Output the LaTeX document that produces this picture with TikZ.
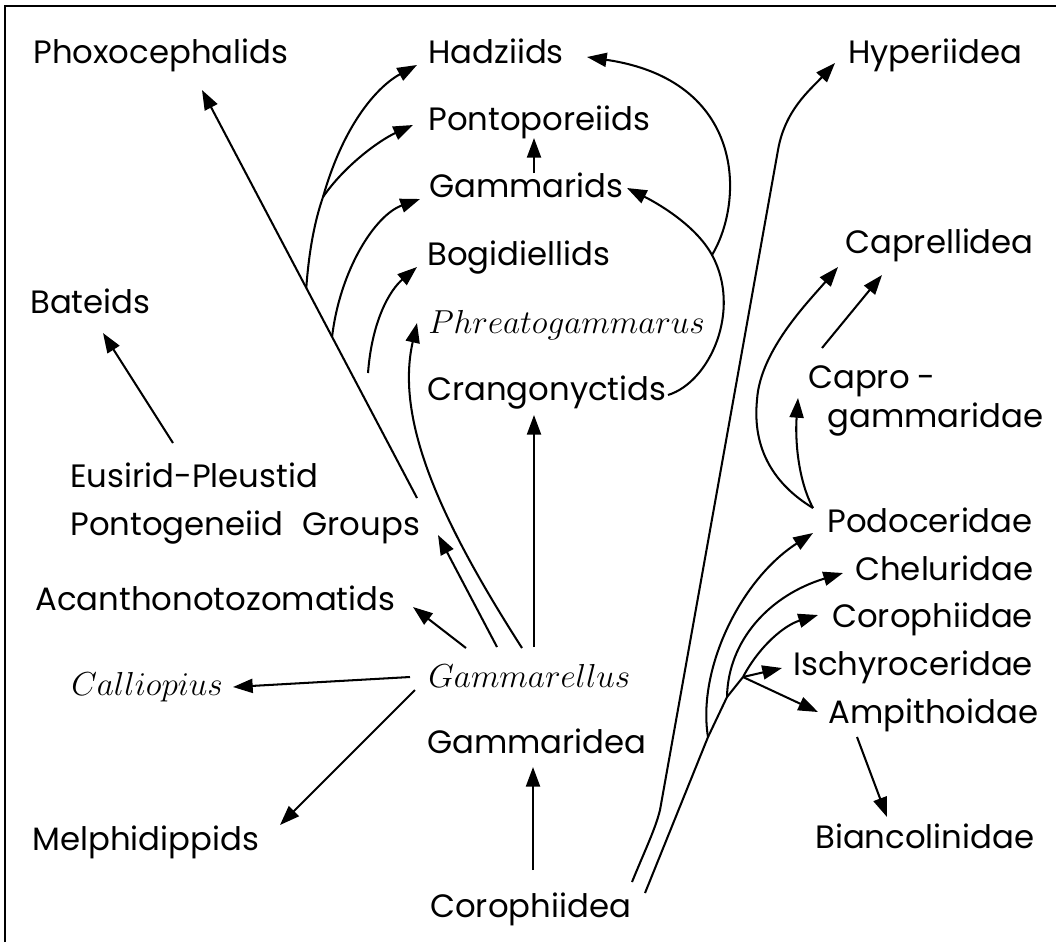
\documentclass[tikz,border=0pt]{standalone}
\usepackage{fontspec}
\setmainfont{Poppins}
\usetikzlibrary{arrows.meta, calc}
\newcommand{\gname}[1]{\scalebox{0.95}{$#1$}}

\begin{document}
\begin{tikzpicture}[x=0.025cm, y=-0.025cm,
  taxon/.style={inner sep=0pt, anchor=base west, font=\fontsize{23}{27}\selectfont},
  genus/.style={inner sep=0pt, anchor=base west, font=\fontsize{24.88}{28}\selectfont},
  link/.style={-{Triangle[length=14pt, width=10pt]}, line width=1.45pt},
  trunk/.style={line width=1.45pt}]
\useasboundingbox (0,0) rectangle (1056,942);
\draw[line width=1.4pt] (5,942) -- (5,6) -- (1056,6);

% left column
\node[taxon] (phox) at (33,63) {Phoxocephalids};
\node[taxon] (bat) at (30,313) {Bateids};
\node[taxon, align=left, font=\fontsize{23}{34}\selectfont] (eus) at (70,535) {Eusirid-Pleustid\\Pontogeneiid\hspace{0.6em}Groups};
\node[taxon] (acan) at (35,610) {Acanthonotozomatids};
\node[genus] (calli) at (71,695) {\gname{Calliopius}};
\node[taxon] (melph) at (32,850) {Melphidippids};

% middle column
\node[taxon] (hadz) at (428,63) {Hadziids};
\node[taxon] (ponto) at (428,130) {Pontoporeiids};
\node[taxon] (gamds) at (429,197) {Gammarids};
\node[taxon] (bogi) at (427,265) {Bogidiellids};
\node[genus] (phrea) at (428,333) {\gname{Phreatogammarus}};
\node[taxon] (crang) at (427,400) {Crangonyctids};
\node[genus] (gmls) at (428,687) {\gname{Gammarellus}};
\node[taxon] (gmdea) at (427,753) {Gammaridea};
\node[taxon] (coro) at (430,917) {Corophiidea};

% right column
\node[taxon] (hyper) at (848,63) {Hyperiidea};
\node[taxon] (capr) at (845,253) {Caprellidea};
\node[taxon, align=left, font=\fontsize{23}{27.7}\selectfont] (caprog) at (808,427) {Capro\hspace{0.25em}-\\\hspace*{13.5pt}gammaridae};
\node[taxon] (podo) at (827,532) {Podoceridae};
\node[taxon] (chel) at (855,580) {Cheluridae};
\node[taxon] (corid) at (832,627) {Corophiidae};
\node[taxon] (isch) at (793,675) {Ischyroceridae};
\node[taxon] (ampi) at (828,723) {Ampithoidae};
\node[taxon] (bianc) at (815,848) {Biancolinidae};

% Eusirid line and its branches
\coordinate (eusTail) at ($(eus.base west)+(347,-37)$);
\coordinate (phoxTip) at ($(phox.base west)+(169,27)$);
\draw[link] (eusTail) -- (phoxTip);
\coordinate (fork1) at ($(eusTail)!0.515!(phoxTip)$);
\coordinate (fork2) at ($(eusTail)!0.395!(phoxTip)$);
\coordinate (split) at (323,197);
\draw[link] (fork1) .. controls (309,250) and (315,220) .. (split) .. controls (345,120) and (380,85) .. ($(hadz.base west)+(-11,2)$);
\draw[link] (split) .. controls (345,165) and (380,140) .. ($(ponto.base west)+(-15,-5)$);
\draw[link] (fork2) .. controls (340,270) and (375,215) .. ($(gamds.base west)+(-9,2)$);
\coordinate (bogiFoot) at ($(bogi.base west)+(-59,108)$);
\draw[link] (bogiFoot) .. controls (372,320) and (390,290) .. ($(bogi.base west)+(-10,2)$);
\draw[link] ($(eus.base west)+(103,-92)$) -- ($(bat.base west)+(73,20)$);

% from Gammarellus
\draw[link] ($(gmls.base west)+(94,-39)$) .. controls (440,520) and (395,420) .. ($(phrea.base west)+(-11,-10)$);
\draw[link] ($(gmls.base west)+(69,-40)$) -- ($(eus.base west)+(368,0)$);
\draw[link] ($(gmls.base west)+(38,-39)$) -- ($(acan.base west)+(378,-3)$);
\draw[link] ($(gmls.base west)+(106,-40)$) -- ($(crang.base west)+(107,15)$);
\draw[link] ($(gmls.base west)+(-18,-10)$) -- ($(calli.base west)+(162,-8)$);
\draw[link] ($(gmls.base west)+(-13,3)$) -- ($(melph.base west)+(248,-25)$);
\draw[link] ($(coro.base west)+(103,-47)$) -- ($(gmdea.base west)+(106,14)$);
\draw[link] ($(gamds.base west)+(105,-24)$) -- ($(ponto.base west)+(106,8)$);

% Crangonyctids loop
\coordinate (loop) at (712,255);
\draw[link] ($(crang.base west)+(241,-5)$) .. controls (710,382) and (742,310) .. (loop) .. controls (695,224) and (655,202) .. ($(gamds.base west)+(198,-9)$);
\draw[link] (loop) .. controls (745,200) and (745,80) .. ($(hadz.base west)+(159,-6)$);

% Corophiidea lines
\draw[link] ($(coro.base west)+(202,-35)$) .. controls (645,850) and (655,830) .. (660,810) -- (778,150) .. controls (785,110) and (810,90) .. ($(hyper.base west)+(-13,0)$);
\coordinate (cor1) at (708,737);
\coordinate (cor2) at (727,697);
\coordinate (cor3) at (743,677);
\draw[trunk, line join=round] ($(coro.base west)+(215,-24)$) -- (cor1) -- (cor2) -- (cor3);
\draw[link] (cor1) .. controls (697,670) and (740,580) .. ($(podo.base west)+(-14,1)$);
\draw[link] (cor2) .. controls (728,640) and (770,595) .. ($(chel.base west)+(-12,-7)$);
\draw[link] (cor3) .. controls (760,645) and (785,625) .. ($(corid.base west)+(-14,-12)$);
\draw[link] (cor3) -- ($(isch.base west)+(-11,-7)$);
\draw[link] (cor3) -- ($(ampi.base west)+(-10,-11)$);
\draw[link] ($(ampi.base west)+(29,14)$) -- ($(bianc.base west)+(72,-31)$);

% Podoceridae
\coordinate (podoFoot) at ($(podo.base west)+(-14,-24)$);
\draw[link] (podoFoot) .. controls (775,485) and (752,450) .. (757,400) .. controls (760,350) and (810,300) .. ($(capr.base west)+(-7,14)$);
\draw[link] (podoFoot) .. controls (798,480) and (795,440) .. ($(caprog.base west)+(-10,-29)$);
\draw[link] ($(caprog.base west)+(14,-79)$) -- ($(capr.base west)+(37,22)$);
\end{tikzpicture}
\end{document}
